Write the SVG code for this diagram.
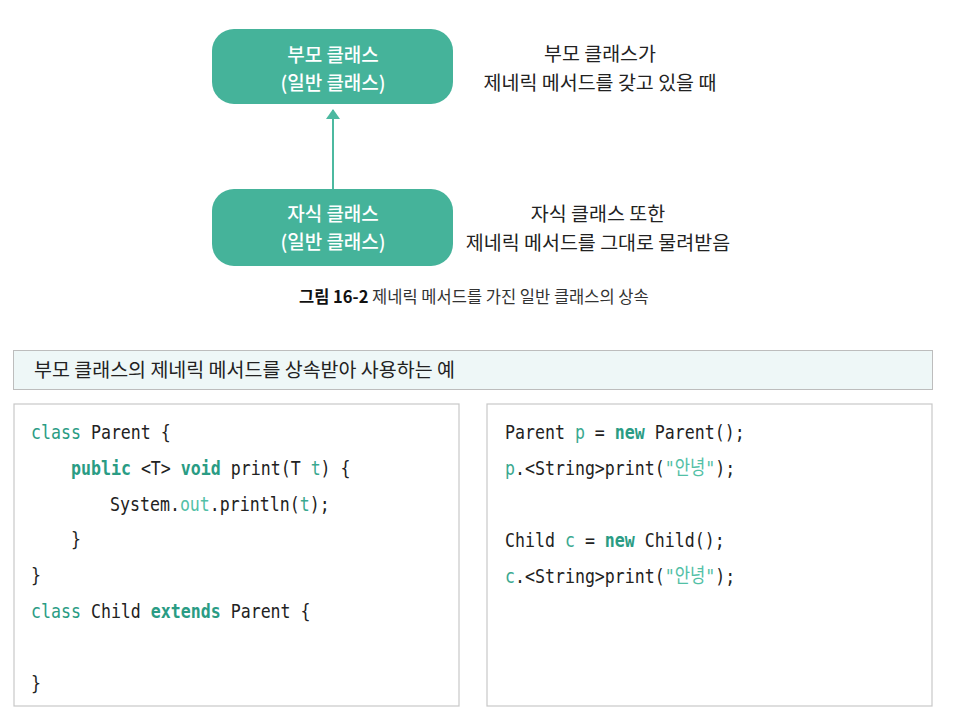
<svg xmlns="http://www.w3.org/2000/svg" width="959" height="724" viewBox="0 0 959 724">
  <defs>
    <marker id="arrowHead" viewBox="0 0 10 14" refX="9" refY="7" markerWidth="10" markerHeight="14" markerUnits="userSpaceOnUse" orient="auto">
      <path d="M0,0 L10,7 L0,14 Z" fill="#4cb9a0"/>
    </marker>
    <style>
      .node { fill: #45b39a; }
      .nodeText { font-family: "Noto Sans CJK KR", "Noto Sans", sans-serif; font-size: 19px; font-weight: 500; fill: #ffffff; text-anchor: middle; }
      .note { font-family: "Noto Sans CJK KR", "Noto Sans", sans-serif; font-size: 19.5px; fill: #222222; text-anchor: middle; }
      .caption { font-family: "Noto Sans CJK KR", "Noto Sans", sans-serif; font-size: 16.5px; fill: #333333; }
      .header { font-family: "Noto Sans CJK KR", "Noto Sans", sans-serif; font-size: 19.5px; fill: #222222; }
      .box { fill: #ffffff; stroke: #c8c8c8; stroke-width: 1.2; }
      .code { font-family: "DejaVu Sans Mono", "Noto Sans CJK KR", monospace; font-size: 20px; fill: #222222; }
      .kw { fill: #2a9c84; }
      .kwb { fill: #2a9c84; font-weight: bold; }
      .id { fill: #3aa98f; }
      .str { fill: #52c0a6; }
    </style>
  </defs>

  <!-- inheritance diagram -->
  <g id="parent-class">
    <rect class="node" x="212" y="29" width="241" height="75" rx="22"/>
    <text class="nodeText" x="333" y="62">부모 클래스</text>
    <text class="nodeText" x="333" y="90">(일반 클래스)</text>
  </g>
  <g id="child-class">
    <rect class="node" x="212" y="189" width="241" height="77" rx="22"/>
    <text class="nodeText" x="333" y="221">자식 클래스</text>
    <text class="nodeText" x="333" y="249">(일반 클래스)</text>
  </g>
  <g id="connectors">
    <line x1="333" y1="189" x2="333" y2="110" stroke="#4cb9a0" stroke-width="2" marker-end="url(#arrowHead)"/>
  </g>
  <g id="parent-note">
    <text class="note" x="600" y="61">부모 클래스가</text>
    <text class="note" x="600" y="90">제네릭 메서드를 갖고 있을 때</text>
  </g>
  <g id="child-note">
    <text class="note" x="598" y="221">자식 클래스 또한</text>
    <text class="note" x="598" y="250">제네릭 메서드를 그대로 물려받음</text>
  </g>
  <g id="caption">
    <text class="caption" x="299" y="303"><tspan font-weight="bold" fill="#111111">그림 16-2</tspan> 제네릭 메서드를 가진 일반 클래스의 상속</text>
  </g>

  <!-- example header -->
  <g id="example-header">
    <rect x="13.5" y="350.5" width="919" height="39" fill="#eef7f7" stroke="#bdbdbd" stroke-width="1"/>
    <text class="header" x="34" y="377">부모 클래스의 제네릭 메서드를 상속받아 사용하는 예</text>
  </g>

  <!-- class definitions -->
  <g id="code-definitions">
    <rect class="box" x="14" y="404" width="445" height="302"/>
    <g transform="translate(31 0) scale(0.83 1)">
      <text class="code" x="0" y="439"><tspan class="kw">class</tspan> Parent {</text>
      <text class="code" x="48.2" y="475"><tspan class="kwb">public</tspan> &lt;T&gt; <tspan class="kwb">void</tspan> print(T <tspan class="id">t</tspan>) {</text>
      <text class="code" x="95.2" y="511">System.<tspan class="str">out</tspan>.println(<tspan class="id">t</tspan>);</text>
      <text class="code" x="48.2" y="546">}</text>
      <text class="code" x="0" y="582">}</text>
      <text class="code" x="0" y="618"><tspan class="kw">class</tspan> Child <tspan class="kwb">extends</tspan> Parent {</text>
      <text class="code" x="0" y="690">}</text>
    </g>
  </g>

  <!-- usage -->
  <g id="code-usage">
    <rect class="box" x="487" y="404" width="445" height="302"/>
    <g transform="translate(505 0) scale(0.83 1)">
      <text class="code" x="0" y="439">Parent <tspan class="id">p</tspan> = <tspan class="kwb">new</tspan> Parent();</text>
      <text class="code" x="0" y="475"><tspan class="id">p</tspan>.&lt;String&gt;print(<tspan class="str">"안녕"</tspan>);</text>
      <text class="code" x="0" y="547">Child <tspan class="id">c</tspan> = <tspan class="kwb">new</tspan> Child();</text>
      <text class="code" x="0" y="583"><tspan class="id">c</tspan>.&lt;String&gt;print(<tspan class="str">"안녕"</tspan>);</text>
    </g>
  </g>
</svg>
